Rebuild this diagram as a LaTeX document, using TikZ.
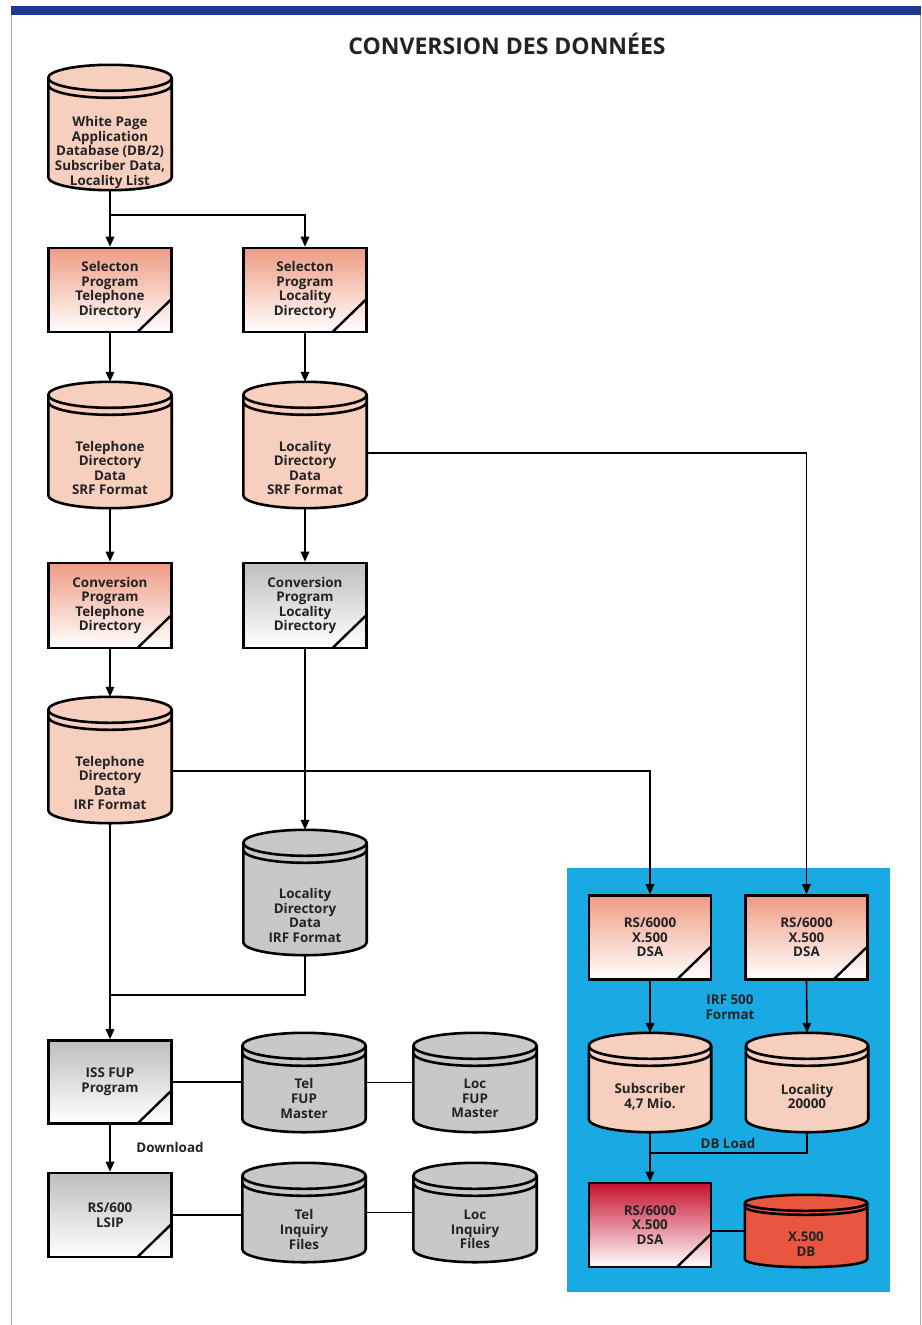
\documentclass[tikz,border=0pt]{standalone}
\usepackage{fontspec}
\setmainfont{Open Sans}
\usetikzlibrary{arrows.meta,calc}

\definecolor{barblue}{RGB}{28,58,148}
\definecolor{panelblue}{RGB}{25,170,228}
\definecolor{pinkcyl}{RGB}{246,207,190}
\definecolor{graycyl}{RGB}{200,200,200}
\definecolor{salmontop}{RGB}{238,155,132}
\definecolor{salmonmid}{RGB}{245,196,180}
\definecolor{graytop}{RGB}{190,190,190}
\definecolor{graymid}{RGB}{218,218,218}
\definecolor{redtop}{RGB}{200,16,46}
\definecolor{redmid}{RGB}{228,96,86}
\definecolor{xdbred}{RGB}{232,86,64}
\definecolor{txt}{RGB}{35,35,35}
\definecolor{framegray}{RGB}{170,170,170}

\newcommand\boxfont{\fontsize{13.4}{14.6}\selectfont\bfseries}

\pgfdeclarelayer{panel}
\pgfdeclarelayer{cyl}
\pgfsetlayers{panel,cyl,main}

% cylinder body drawn round a named node: name, fill, ellipse y radius, rim offset
\newcommand\drawcyl[4]{%
  \begin{pgfonlayer}{cyl}
    \path[cylline,fill=#2] let \p1=(#1.north west), \p2=(#1.south east), \n1={(\x2-\x1)/2} in
      (\x1,\y1-#3) -- (\x1,\y2+#3)
      arc[start angle=180,end angle=360,x radius=\n1,y radius=#3]
      -- (\x2,\y1-#3)
      arc[start angle=0,end angle=180,x radius=\n1,y radius=#3] -- cycle;
    \path[cylline] let \p1=(#1.north west), \p2=(#1.south east), \n1={(\x2-\x1)/2} in
      (\x1,\y1-#3) arc[start angle=180,end angle=360,x radius=\n1,y radius=#3]
      (\x1,\y1-#3-#4) arc[start angle=180,end angle=360,x radius=\n1,y radius=#3];
  \end{pgfonlayer}}

\begin{document}
\begin{tikzpicture}[x=1pt,y=1pt,
  cylline/.style={draw=black,line width=2.6pt,line join=round},
  prog/.style={draw=black,line width=2.6pt,minimum width=123pt,minimum height=84pt,
    inner sep=0pt,align=center,font=\boxfont,text=txt,
    path picture={\draw[line width=2.4pt]
      ([xshift=-34pt]path picture bounding box.south east) --
      ([yshift=33pt]path picture bounding box.south east);}},
  pinkprog/.style={prog,top color=salmontop,middle color=salmonmid,bottom color=white},
  grayprog/.style={prog,top color=graytop,middle color=graymid,bottom color=white},
  redprog/.style={prog,top color=redtop,middle color=redmid,bottom color=white},
  store/.style={minimum width=123pt,minimum height=#1,inner sep=0pt},
  store/.default=126pt,
  cyltxt/.style={align=center,font=\boxfont,text=txt,yshift=-23pt},
  lbl/.style={align=center,font=\boxfont,text=txt},
  conn/.style={line width=1.6pt,draw=black},
  arr/.style={conn,-{Triangle[length=10pt,width=8.5pt]}}]

\useasboundingbox (0,0) rectangle (921,-1325);

% page background, frame, header bar and blue panel
\begin{pgfonlayer}{panel}
  \fill[white] (0,0) rectangle (921,-1325);
  \draw[framegray,line width=0.8pt] (11,-15) -- (11,-1325);
  \draw[framegray,line width=0.8pt] (920,-15) -- (920,-1325);
  \fill[barblue] (11,-6) rectangle (921,-15);
  \fill[panelblue] (567,-868) rectangle (890,-1292);
\end{pgfonlayer}

\node[font=\fontsize{23}{27}\selectfont\bfseries,text=txt] (title) at (507,-44) {CONVERSION DES DONNÉES};

% source database
\node[store=125pt,label={[cyltxt,yshift=-2pt]center:White Page\\Application\\Database (DB/2)\\Subscriber Data{,}\\Locality List}] (wp) at (110,-127.5) {};

% selection programs
\node[pinkprog] (sel1) at (110,-290) {Selecton\\Program\\Telephone\\Directory};
\node[pinkprog] (sel2) at (305,-290) {Selecton\\Program\\Locality\\Directory};

% SRF data
\node[store,label={[cyltxt]center:Telephone\\Directory\\Data\\SRF Format}] (teldata) at (110,-445) {};
\node[store,label={[cyltxt]center:Locality\\Directory\\Data\\SRF Format}] (locdata) at (305,-445) {};

% conversion programs
\node[pinkprog,minimum height=85pt] (conv1) at (110,-605.5) {Conversion\\Program\\Telephone\\Directory};
\node[grayprog,minimum height=85pt] (conv2) at (305,-605.5) {Conversion\\Program\\Locality\\Directory};

% IRF data
\node[store,label={[cyltxt]center:Telephone\\Directory\\Data\\IRF Format}] (telirf) at (110,-760) {};
\node[store=125pt,label={[cyltxt]center:Locality\\Directory\\Data\\IRF Format}] (locirf) at (305,-892.5) {};

% FUP and LSIP
\node[grayprog,minimum height=83pt] (iss) at (110,-1082) {ISS FUP\\Program};
\node[grayprog] (lsip) at (110,-1215) {RS/600\\LSIP};
\node[store=99pt,label={[cyltxt,yshift=7pt]center:Tel\\FUP\\Master}] (telfup) at (304,-1082.5) {};
\node[store=99pt,label={[cyltxt,yshift=7pt]center:Loc\\FUP\\Master}] (locfup) at (475,-1082.5) {};
\node[store=99pt,label={[cyltxt,yshift=6pt]center:Tel\\Inquiry\\Files}] (telinq) at (304,-1212.5) {};
\node[store=99pt,label={[cyltxt,yshift=6pt]center:Loc\\Inquiry\\Files}] (locinq) at (475,-1212.5) {};

% X.500 side
\node[pinkprog,minimum width=122pt] (dsa1) at (650,-937.5) {RS/6000\\X.500\\DSA};
\node[pinkprog,minimum width=122pt] (dsa2) at (806.5,-937.5) {RS/6000\\X.500\\DSA};
\node[store=99pt,minimum width=122pt,label={[cyltxt,yshift=9pt]center:Subscriber\\4{,}7 Mio.}] (subs) at (650,-1082.5) {};
\node[store=99pt,minimum width=122pt,label={[cyltxt,yshift=9pt]center:Locality\\20000}] (locdb) at (807,-1082.5) {};
\node[redprog,minimum width=122pt] (rdsa) at (650,-1225) {RS/6000\\X.500\\DSA};
\node[store=72pt,minimum width=122pt,label={[cyltxt,yshift=10pt]center:X.500\\DB}] (xdb) at (806,-1231) {};

\node[lbl] (irf) at (730,-1007) {IRF 500\\Format};
\node[lbl] (dbload) at (728,-1143) {DB Load};
\node[lbl] (download) at (170,-1147) {Download};

% cylinder bodies
\drawcyl{wp}{pinkcyl}{13pt}{7pt}
\drawcyl{teldata}{pinkcyl}{13pt}{7pt}
\drawcyl{locdata}{pinkcyl}{13pt}{7pt}
\drawcyl{telirf}{pinkcyl}{13pt}{7pt}
\drawcyl{locirf}{graycyl}{13pt}{7pt}
\drawcyl{telfup}{graycyl}{13pt}{7pt}
\drawcyl{locfup}{graycyl}{13pt}{7pt}
\drawcyl{telinq}{graycyl}{13pt}{7pt}
\drawcyl{locinq}{graycyl}{13pt}{7pt}
\drawcyl{subs}{pinkcyl}{13pt}{7pt}
\drawcyl{locdb}{pinkcyl}{13pt}{7pt}
\drawcyl{xdb}{xdbred}{8pt}{4pt}

% junction points
\coordinate (irfjoin) at (110,-995);
\coordinate (loadjoin) at (650,-1153);

% connectors
\draw[arr] (wp.south) -- (sel1.north);
\draw[arr] (wp.south) ++(0,-25) -| (sel2.north);
\draw[arr] (sel1.south) -- (teldata.north);
\draw[arr] (sel2.south) -- (locdata.north);
\draw[arr] (teldata.south) -- (conv1.north);
\draw[arr] (locdata.south) -- (conv2.north);
\draw[arr] (conv1.south) -- (telirf.north);
\draw[arr] (conv2.south) -- (locirf.north);
\draw[arr] ([yshift=-8pt]locdata.east) -| (dsa2.north);
\draw[arr] ([yshift=-11pt]telirf.east) -| (dsa1.north);
\draw[arr] (telirf.south) -- (iss.north);
\draw[conn] (locirf.south) |- (irfjoin);
\draw[conn] (iss.east) -- (iss.east -| telfup.west);
\draw[conn] (telfup.east) -- (locfup.west);
\draw[arr] (iss.south) -- (lsip.north);
\draw[conn] (lsip.east) -- (lsip.east -| telinq.west);
\draw[conn] (telinq.east) -- (locinq.west);
\draw[arr] (dsa1.south) -- (subs.north);
\draw[arr] (dsa2.south) -- (locdb.north);
\draw[conn] (locdb.south) |- (loadjoin);
\draw[arr] (subs.south) -- (rdsa.north);
\draw[conn] (rdsa.east |- xdb.west) -- (xdb.west);

\end{tikzpicture}
\end{document}
